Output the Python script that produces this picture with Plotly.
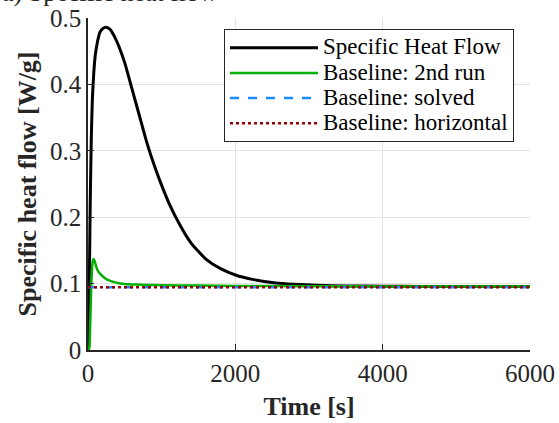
import plotly.graph_objects as go

# ---- data ----
t_heat = [0, 10, 20, 30, 45, 60, 80, 100, 130, 160, 200, 245, 300, 360, 420, 500, 600, 700, 800,
          900, 1000, 1100, 1250, 1400, 1600, 1800, 2000, 2250, 2550, 2800, 3100, 3500, 4000,
          4500, 5000, 5500, 6000]
v_heat = [0, 0.03, 0.12, 0.22, 0.32, 0.38, 0.42, 0.445, 0.465, 0.478, 0.484, 0.486, 0.483, 0.472,
          0.457, 0.432, 0.392, 0.352, 0.312, 0.278, 0.248, 0.221, 0.188, 0.161, 0.137, 0.1225,
          0.113, 0.106, 0.101, 0.099, 0.0975, 0.0965, 0.096, 0.0957, 0.0956, 0.0955, 0.0955]

t_run2 = [0, 10, 20, 30, 45, 60, 75, 90, 110, 140, 180, 230, 300, 400, 500, 650, 800, 1000,
          1500, 2000, 3000, 4000, 5000, 6000]
v_run2 = [0, 0.0, 0.005, 0.04, 0.10, 0.13, 0.137, 0.134, 0.126, 0.118, 0.113, 0.108, 0.104,
          0.101, 0.0995, 0.0985, 0.098, 0.0975, 0.097, 0.0965, 0.096, 0.0958, 0.0956, 0.0955]

t_solved = [0, 6000]
v_solved = [0.0945, 0.0945]

t_horiz = [0, 6000]
v_horiz = [0.0945, 0.0945]

names = ["Specific Heat Flow", "Baseline: 2nd run", "Baseline: solved", "Baseline: horizontal"]
x_ticks = [0, 2000, 4000, 6000]
y_ticks = [0, 0.1, 0.2, 0.3, 0.4, 0.5]
y_tick_text = ["0", "0.1", "0.2", "0.3", "0.4", "0.5"]

FONT = "Liberation Serif"
AX = "#262626"


def leg(name):
    # legend row height follows legend.font.size; the text itself is drawn larger
    return '<span style="font-size:23px">' + name + '</span>'


fig = go.Figure()
fig.add_trace(go.Scatter(x=t_heat, y=v_heat, mode="lines", name=leg(names[0]),
                         line=dict(color="black", width=3, shape="spline", smoothing=0.6)))
fig.add_trace(go.Scatter(x=t_run2, y=v_run2, mode="lines", name=leg(names[1]),
                         line=dict(color="#00B000", width=2.5, shape="spline", smoothing=0.6)))
fig.add_trace(go.Scatter(x=t_solved, y=v_solved, mode="lines", name=leg(names[2]),
                         line=dict(color="#1a8cff", width=2.5, dash="dash")))
fig.add_trace(go.Scatter(x=t_horiz, y=v_horiz, mode="lines", name=leg(names[3]),
                         line=dict(color="#990000", width=2.5, dash="dot")))

fig.update_layout(
    width=559, height=423,
    margin=dict(l=88, r=29, t=18, b=73, autoexpand=False),
    paper_bgcolor="white", plot_bgcolor="white",
    font=dict(family=FONT, color=AX, size=24),
    showlegend=True,
    legend=dict(x=0.3077, y=0.966, xanchor="left", yanchor="top",
                bgcolor="white", bordercolor=AX, borderwidth=1,
                font=dict(family=FONT, size=17, color="black"),
                itemwidth=88, tracegroupgap=0),
)
fig.update_xaxes(range=[0, 6000], tickvals=x_ticks, ticktext=[str(v) for v in x_ticks],
                 automargin=False,
                 showgrid=True, gridcolor="#e3e3e3", gridwidth=1, zeroline=False,
                 showline=True, linecolor=AX, linewidth=1.5, mirror=False,
                 ticks="inside", ticklen=6, tickcolor=AX,
                 tickfont=dict(family=FONT, size=25, color=AX),
                 title=dict(text="<b>Time [s]</b>", font=dict(family=FONT, size=26, color=AX),
                            standoff=11))
fig.update_yaxes(range=[0, 0.5], tickvals=y_ticks, ticktext=y_tick_text,
                 automargin=False,
                 showgrid=True, gridcolor="#e3e3e3", gridwidth=1, zeroline=False,
                 showline=True, linecolor=AX, linewidth=1.5, mirror=False,
                 ticks="inside", ticklen=6, tickcolor=AX,
                 tickfont=dict(family=FONT, size=25, color=AX),
                 title=dict(text="<b>Specific heat flow [W/g]</b>",
                            font=dict(family=FONT, size=26, color=AX), standoff=6))

fig.add_annotation(text="a) Specific heat flow", xref="paper", yref="paper",
                   x=-0.199, y=1.028, xanchor="left", yanchor="bottom", showarrow=False,
                   font=dict(family=FONT, size=26, color=AX))

fig.write_html("out.html")
